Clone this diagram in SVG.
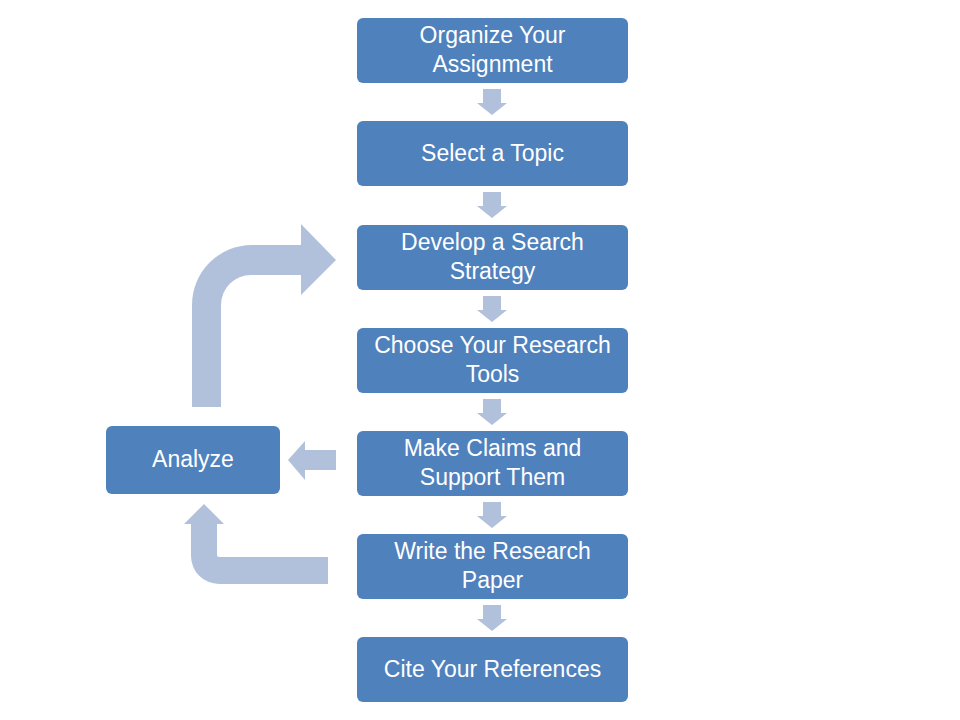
<svg xmlns="http://www.w3.org/2000/svg" width="960" height="720" viewBox="0 0 960 720">
<style>
.box{fill:#4F81BD}
.arr{fill:#B2C1DB}
.t{font-family:"Liberation Sans",Arial,sans-serif;font-size:23px;fill:#FFFFFF;text-anchor:middle}
</style>
<defs>
<path id="down" d="M483,0 L501,0 L501,14 L507,14 L492,26 L477,14 L483,14 Z"/>
</defs>
<rect width="960" height="720" fill="#FFFFFF"/>
<g id="connectors">
<use href="#down" class="arr" y="89"/>
<use href="#down" class="arr" y="192"/>
<use href="#down" class="arr" y="296"/>
<use href="#down" class="arr" y="399"/>
<use href="#down" class="arr" y="502"/>
<use href="#down" class="arr" y="605"/>
<path class="arr" d="M336,450 L305,450 L305,441 L288,460 L305,480 L305,470 L336,470 Z"/>
<path class="arr" d="M192,407 L192,305 A60,60 0 0 1 252,245 L301,245 L301,224 L336,260 L301,295 L301,275 L251,275 A30,30 0 0 0 221,305 L221,407 Z"/>
<path class="arr" d="M328,557 L219,557 A2,2 0 0 1 217,555 L217,524 L224,524 L204,504 L184,524 L191,524 L191,556 A28,28 0 0 0 219,584 L328,584 Z"/>
</g>
<g id="n1"><rect class="box" x="357" y="18" width="271" height="65" rx="6"/><text class="t" x="492.5" y="43">Organize Your</text><text class="t" x="492.5" y="72">Assignment</text></g>
<g id="n2"><rect class="box" x="357" y="121" width="271" height="65" rx="6"/><text class="t" x="492.5" y="161">Select a Topic</text></g>
<g id="n3"><rect class="box" x="357" y="225" width="271" height="65" rx="6"/><text class="t" x="492.5" y="250">Develop a Search</text><text class="t" x="492.5" y="279">Strategy</text></g>
<g id="n4"><rect class="box" x="357" y="328" width="271" height="65" rx="6"/><text class="t" x="492.5" y="353">Choose Your Research</text><text class="t" x="492.5" y="382">Tools</text></g>
<g id="n5"><rect class="box" x="357" y="431" width="271" height="65" rx="6"/><text class="t" x="492.5" y="456">Make Claims and</text><text class="t" x="492.5" y="485">Support Them</text></g>
<g id="n6"><rect class="box" x="357" y="534" width="271" height="65" rx="6"/><text class="t" x="492.5" y="559">Write the Research</text><text class="t" x="492.5" y="588">Paper</text></g>
<g id="n7"><rect class="box" x="357" y="637" width="271" height="65" rx="6"/><text class="t" x="492.5" y="677">Cite Your References</text></g>
<g id="analyze"><rect class="box" x="106" y="426" width="174" height="68" rx="6"/><text class="t" x="193" y="467">Analyze</text></g>
</svg>
